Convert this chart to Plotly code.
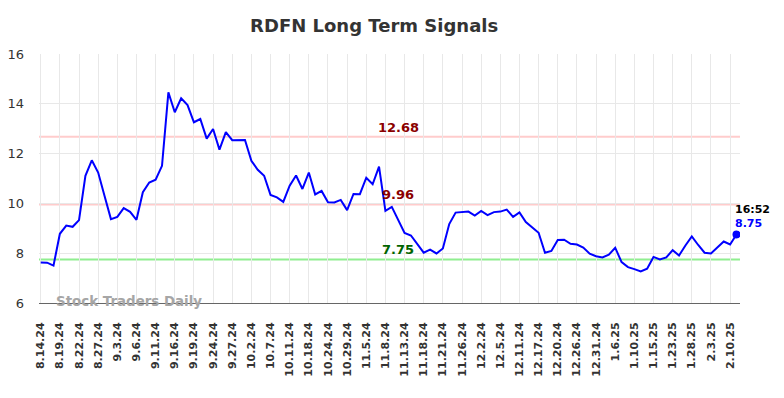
import plotly.graph_objects as go

tick_labels = ["8.14.24", "8.19.24", "8.22.24", "8.27.24", "9.3.24", "9.6.24", "9.11.24",
               "9.16.24", "9.19.24", "9.24.24", "9.27.24", "10.2.24", "10.7.24", "10.11.24",
               "10.18.24", "10.24.24", "10.29.24", "11.5.24", "11.8.24", "11.13.24",
               "11.18.24", "11.21.24", "11.26.24", "12.2.24", "12.5.24", "12.11.24",
               "12.17.24", "12.20.24", "12.26.24", "12.31.24", "1.6.25", "1.10.25",
               "1.15.25", "1.23.25", "1.28.25", "2.3.25", "2.10.25"]

prices = [7.63, 7.62, 7.50, 8.78, 9.11, 9.06, 9.33, 11.11, 11.73, 11.24,
          10.30, 9.37, 9.46, 9.81, 9.66, 9.34, 10.45, 10.84, 10.95, 11.51,
          14.46, 13.66, 14.22, 13.95, 13.26, 13.39, 12.60, 12.99, 12.16, 12.86,
          12.54, 12.54, 12.55, 11.71, 11.35, 11.11, 10.34, 10.24, 10.06, 10.71,
          11.12, 10.58, 11.24, 10.36, 10.50, 10.05, 10.04, 10.14, 9.73, 10.38,
          10.37, 11.03, 10.77, 11.48, 9.70, 9.86, 9.34, 8.81, 8.71, 8.38,
          8.02, 8.14, 7.99, 8.19, 9.17, 9.63, 9.64, 9.67, 9.51, 9.70,
          9.53, 9.65, 9.67, 9.75, 9.46, 9.64, 9.25, 9.04, 8.82, 8.02,
          8.09, 8.53, 8.54, 8.38, 8.35, 8.23, 7.98, 7.88, 7.83, 7.94,
          8.22, 7.64, 7.44, 7.36, 7.27, 7.38, 7.85, 7.75, 7.83, 8.12,
          7.91, 8.31, 8.67, 8.33, 8.02, 7.99, 8.22, 8.47, 8.35, 8.75]

resistance_levels = [12.68, 9.96]
support_levels = [7.75]
last_time = "16:52"
tick_step = 3
label_index = 56

x = list(range(len(prices)))
tickvals = [i * tick_step for i in range(len(tick_labels))]
ticktext = [f"<b>{t}</b>" for t in tick_labels]

fig = go.Figure()

for lvl in resistance_levels:
    fig.add_hline(y=lvl, line=dict(color="#ffcccc", width=2), layer="below")
    fig.add_annotation(x=label_index, y=lvl, text=f"<b>{lvl:.2f}</b>", showarrow=False,
                       yanchor="bottom", yshift=0, font=dict(size=13, color="#8b0000",
                       family="DejaVu Sans"))
for lvl in support_levels:
    fig.add_hline(y=lvl, line=dict(color="#90ee90", width=2), layer="below")
    fig.add_annotation(x=label_index, y=lvl, text=f"<b>{lvl:.2f}</b>", showarrow=False,
                       yanchor="bottom", yshift=0, font=dict(size=13, color="#006400",
                       family="DejaVu Sans"))

fig.add_trace(go.Scatter(x=x, y=prices, mode="lines",
                         line=dict(color="#0000ff", width=2), hoverinfo="skip"))
fig.add_trace(go.Scatter(x=[x[-1]], y=[prices[-1]], mode="markers",
                         marker=dict(color="#0000ff", size=8), hoverinfo="skip"))

fig.add_annotation(x=x[-1], y=prices[-1], text=f"<b>{last_time}</b>", showarrow=False,
                   xanchor="left", yanchor="bottom", xshift=-3, yshift=17,
                   font=dict(size=11, color="#000000", family="DejaVu Sans"))
fig.add_annotation(x=x[-1], y=prices[-1], text=f"<b>{prices[-1]:.2f}</b>", showarrow=False,
                   xanchor="left", yanchor="bottom", xshift=-3, yshift=3,
                   font=dict(size=11, color="#0000ff", family="DejaVu Sans"))

fig.add_annotation(xref="paper", x=0.021, y=6.05, text="<b>Stock Traders Daily</b>",
                   showarrow=False, xanchor="left", yanchor="middle",
                   font=dict(size=13.4, color="#a6a6a6", family="DejaVu Sans"))

fig.update_layout(
    width=784, height=398,
    margin=dict(l=31, r=52, t=46, b=103),
    paper_bgcolor="white", plot_bgcolor="white",
    showlegend=False,
    title=dict(text="<b>RDFN Long Term Signals</b>", x=0.467, xanchor="center",
               y=0.955, yanchor="middle",
               font=dict(size=18, color="#333333", family="DejaVu Sans")),
    xaxis=dict(range=[-0.27, 109.55], tickvals=tickvals, ticktext=ticktext,
               tickangle=-90, showgrid=True, gridcolor="#e8e8e8", gridwidth=1,
               showline=True, linecolor="#666666", linewidth=1, zeroline=False,
               ticks="", ticklabelstandoff=14, automargin=False,
               tickfont=dict(size=11, color="#333333", family="DejaVu Sans")),
    yaxis=dict(range=[6, 16], dtick=2, showgrid=True, gridcolor="#e8e8e8", gridwidth=1,
               zeroline=False, showline=False, ticks="", ticklabelstandoff=14,
               automargin=False,
               tickfont=dict(size=13, color="#333333", family="DejaVu Sans")),
)

fig.write_html("out.html")
